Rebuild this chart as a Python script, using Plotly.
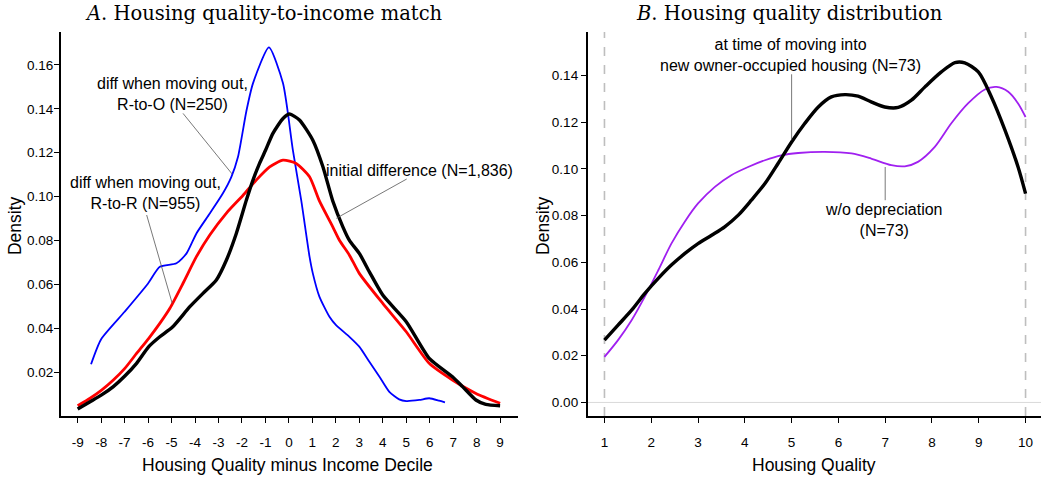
import plotly.graph_objects as go

# ---------------- Panel A data ----------------
a_blue_x = [-8.43, -8.0, -7.0, -6.0, -5.5, -4.79, -4.36, -3.94, -3.37, -2.81, -2.45, -2.17, -1.81, -1.53, -0.85,
            -0.25, 0.17, 0.53, 0.88, 1.02, 1.3, 1.73, 2.0, 2.58, 3.0, 3.43, 3.86, 4.28, 4.7, 5.0,
            5.56, 5.98, 6.4, 6.65]
a_blue_y = [0.0236, 0.035, 0.0475, 0.0604, 0.068, 0.0696, 0.0741, 0.0832, 0.0923, 0.1015, 0.109, 0.118, 0.139,
            0.1516, 0.168, 0.1516, 0.1212, 0.098, 0.0726, 0.065, 0.0544, 0.0452, 0.0415, 0.0361,
            0.0316, 0.0247, 0.0179, 0.011, 0.0076, 0.0068, 0.0073, 0.0081, 0.007, 0.0062]

a_black_x = [-9.0, -8.47, -7.98, -7.48, -6.99, -6.49, -5.97, -5.5, -4.97, -4.22, -3.66, -3.09, -2.66,
             -2.24, -1.81, -1.53, -1.25, -0.99, -0.68, -0.25, 0.03, 0.45, 1.02, 1.45, 1.87, 2.3, 2.58, 3.0,
             3.43, 4.0, 5.0, 5.98, 6.97, 7.4, 7.97, 8.39, 9.0]
a_black_y = [0.0032, 0.0065, 0.0096, 0.0134, 0.0182, 0.024, 0.0316, 0.0361, 0.0404, 0.0498, 0.0559, 0.062,
             0.0711, 0.0832, 0.0984, 0.1075, 0.1151, 0.1212, 0.1288, 0.1356, 0.1376, 0.1349, 0.1257, 0.1136,
             0.098, 0.0862, 0.080, 0.0741, 0.0657, 0.0551, 0.043, 0.0263, 0.0179, 0.0134, 0.0073, 0.0053,
             0.0047]

a_red_x = [-9.0, -8.47, -7.98, -7.48, -6.99, -6.49, -5.97, -5.5, -5.07, -4.51, -3.94, -3.37, -2.66,
           -1.96, -1.39, -0.82, -0.25, 0.31, 0.88, 1.3, 1.87, 2.16, 2.58, 3.0, 4.0, 5.0, 5.98, 6.97, 7.97, 9.0]
a_red_y = [0.0047, 0.0081, 0.0118, 0.0164, 0.0217, 0.0285, 0.0354, 0.0422, 0.0491, 0.0605, 0.0726, 0.0825,
           0.0925, 0.1005, 0.1075, 0.1135, 0.1166, 0.1151, 0.109, 0.098, 0.0862, 0.080, 0.0733, 0.065,
           0.0513, 0.0384, 0.024, 0.0164, 0.0103, 0.0058]

a_xticks = list(range(-9, 10))
a_xticklabels = ["-9", "-8", "-7", "-6", "-5", "-4", "-3", "-2", "-1", "0",
                 "1", "2", "3", "4", "5", "6", "7", "8", "9"]
a_yticks = [0.02, 0.04, 0.06, 0.08, 0.10, 0.12, 0.14, 0.16]

# ---------------- Panel B data ----------------
b_black_x = [1.0, 1.29, 1.58, 1.86, 2.15, 2.43, 2.72, 3.0, 3.29, 3.57, 3.86, 4.14, 4.43, 4.71, 5.0, 5.28,
             5.57, 5.85, 6.14, 6.42, 6.7, 6.99, 7.28, 7.56, 7.85, 8.2, 8.49, 8.7, 8.99, 9.27, 9.56, 9.84, 10.0]
b_black_y = [0.0267, 0.0331, 0.0395, 0.0466, 0.0531, 0.0588, 0.0638, 0.068, 0.0716, 0.0752, 0.0802, 0.0866,
             0.0937, 0.1023, 0.1115, 0.1194, 0.1265, 0.1308, 0.1318, 0.1311, 0.1287, 0.1265, 0.1263, 0.1294,
             0.1351, 0.1415, 0.1455, 0.1454, 0.1415, 0.1308, 0.1166, 0.1008, 0.0894]

b_purple_x = [1.0, 1.29, 1.58, 1.86, 2.15, 2.43, 2.72, 3.0, 3.36, 3.71, 4.07, 4.43, 4.78, 5.14, 5.71, 6.28,
              6.7, 7.13, 7.42, 7.7, 8.06, 8.41, 8.77, 9.13, 9.38, 9.63, 9.84, 10.0]
b_purple_y = [0.0195, 0.0267, 0.0352, 0.0452, 0.0566, 0.068, 0.0775, 0.0852, 0.0923, 0.0973, 0.1008, 0.1037,
              0.1058, 0.1068, 0.1073, 0.1066, 0.1044, 0.1016, 0.1011, 0.103, 0.1094, 0.1194, 0.128, 0.134,
              0.1351, 0.133, 0.128, 0.1222]

b_xticks = list(range(1, 11))
b_yticks = [0.00, 0.02, 0.04, 0.06, 0.08, 0.10, 0.12, 0.14]

SANS = "Liberation Sans, Arial, sans-serif"
SERIF = "DejaVu Serif, serif"

fig = go.Figure()

fig.add_trace(go.Scatter(x=a_blue_x, y=a_blue_y, mode="lines", line=dict(color="#0000FF", width=1.8, shape="spline", smoothing=0.6),
                         xaxis="x", yaxis="y", hoverinfo="skip"))
fig.add_trace(go.Scatter(x=a_red_x, y=a_red_y, mode="lines", line=dict(color="#FF0000", width=2.8, shape="spline", smoothing=0.6),
                         xaxis="x", yaxis="y", hoverinfo="skip"))
fig.add_trace(go.Scatter(x=a_black_x, y=a_black_y, mode="lines", line=dict(color="#000000", width=3.4, shape="spline", smoothing=0.6),
                         xaxis="x", yaxis="y", hoverinfo="skip"))

fig.add_trace(go.Scatter(x=b_purple_x, y=b_purple_y, mode="lines", line=dict(color="#A020F0", width=1.8, shape="spline", smoothing=0.8),
                         xaxis="x2", yaxis="y2", hoverinfo="skip"))
fig.add_trace(go.Scatter(x=b_black_x, y=b_black_y, mode="lines", line=dict(color="#000000", width=3.4, shape="spline", smoothing=0.8),
                         xaxis="x2", yaxis="y2", hoverinfo="skip"))

axis_common = dict(showgrid=False, zeroline=False, showline=True, linecolor="black", linewidth=2,
                   ticks="outside", ticklen=5, tickwidth=1, tickcolor="black",
                   tickfont=dict(family=SANS, size=13.5, color="black"))

fig.update_layout(
    width=1045, height=481,
    margin=dict(l=61, r=4, t=32, b=65),
    paper_bgcolor="white", plot_bgcolor="white",
    showlegend=False,
    xaxis=dict(domain=[0, 0.4665], range=[-9.71, 9.77], tickvals=a_xticks, ticktext=a_xticklabels,
               ticklabelstandoff=8, anchor="y", **axis_common),
    yaxis=dict(domain=[0, 1], range=[0, 0.175], tickvals=a_yticks, tickformat=".2f", ticklabelstandoff=-2,
               anchor="x", **axis_common),
    xaxis2=dict(domain=[0.5376, 1.0], range=[0.645, 10.33], tickvals=b_xticks, ticklabelstandoff=8,
                anchor="y2", **axis_common),
    yaxis2=dict(domain=[0, 1], range=[-0.0058, 0.1586], tickvals=b_yticks, tickformat=".2f", ticklabelstandoff=0,
                anchor="x2", **axis_common),
)

# reference lines in panel B
for xv in [b_xticks[0], b_xticks[-1]]:
    fig.add_shape(type="line", xref="x2", yref="paper", x0=xv, x1=xv, y0=0, y1=1,
                  line=dict(color="#BEBEBE", width=1.6, dash="dash"), layer="below")
fig.add_shape(type="line", xref="paper", yref="y2", x0=0.5376, x1=1.0, y0=0, y1=0,
              line=dict(color="#D9D9D9", width=1), layer="below")

# pointer lines
pointer = dict(color="#555555", width=0.8)
fig.add_shape(type="line", xref="x", yref="y", x0=-4.51, y0=0.1379, x1=-2.42, y1=0.1103, line=pointer)
fig.add_shape(type="line", xref="x", yref="y", x0=5.02, y0=0.108, x1=2.02, y1=0.0901, line=pointer)
fig.add_shape(type="line", xref="x", yref="y", x0=-6.06, y0=0.0916, x1=-4.97, y1=0.0513, line=pointer)
fig.add_shape(type="line", xref="x2", yref="y2", x0=5.0, y0=0.1405, x1=5.0, y1=0.1123, line=pointer)
fig.add_shape(type="line", xref="x2", yref="y2", x0=7.0, y0=0.1008, x1=7.0, y1=0.0866, line=pointer)

lab = dict(family=SANS, size=16, color="black")
fig.add_annotation(xref="x", yref="y", x=-4.98, y=0.1467, text="diff when moving out,<br>R-to-O (N=250)",
                   showarrow=False, font=lab, align="center", xanchor="center", yanchor="middle")
fig.add_annotation(xref="x", yref="y", x=5.58, y=0.112, text="initial difference (N=1,836)",
                   showarrow=False, font=lab, align="center", xanchor="center", yanchor="middle")
fig.add_annotation(xref="x", yref="y", x=-6.13, y=0.1016, text="diff when moving out,<br>R-to-R (N=955)",
                   showarrow=False, font=lab, align="center", xanchor="center", yanchor="middle")
fig.add_annotation(xref="x2", yref="y2", x=4.985, y=0.1487, text="at time of moving into<br>new owner-occupied housing (N=73)",
                   showarrow=False, font=lab, align="center", xanchor="center", yanchor="middle")
fig.add_annotation(xref="x2", yref="y2", x=6.98, y=0.0782, text="w/o depreciation<br>(N=73)",
                   showarrow=False, font=lab, align="center", xanchor="center", yanchor="middle")

# panel titles
fig.add_annotation(xref="paper", yref="paper", x=0.207, y=1.047, xanchor="center", yanchor="middle",
                   text="<i>A</i>. Housing quality-to-income match", showarrow=False,
                   font=dict(family=SERIF, size=19.5, color="black"))
fig.add_annotation(xref="paper", yref="paper", x=0.743, y=1.047, xanchor="center", yanchor="middle",
                   text="<i>B</i>. Housing quality distribution", showarrow=False,
                   font=dict(family=SERIF, size=19.5, color="black"))

# axis titles
title_font = dict(family=SANS, size=17.5, color="black")
fig.add_annotation(xref="paper", yref="paper", x=0.2315, y=-0.128, xanchor="center", yanchor="middle",
                   text="Housing Quality minus Income Decile", showarrow=False, font=title_font)
fig.add_annotation(xref="paper", yref="paper", x=0.7688, y=-0.128, xanchor="center", yanchor="middle",
                   text="Housing Quality", showarrow=False, font=title_font)
fig.add_annotation(xref="paper", yref="paper", x=-0.0468, y=0.495, xanchor="center", yanchor="middle",
                   text="Density", textangle=-90, showarrow=False, font=title_font)
fig.add_annotation(xref="paper", yref="paper", x=0.4919, y=0.495, xanchor="center", yanchor="middle",
                   text="Density", textangle=-90, showarrow=False, font=title_font)

fig.write_html("out.html", config={"displayModeBar": False},
               post_script="document.body.style.margin='0';document.body.style.overflow='hidden';")
